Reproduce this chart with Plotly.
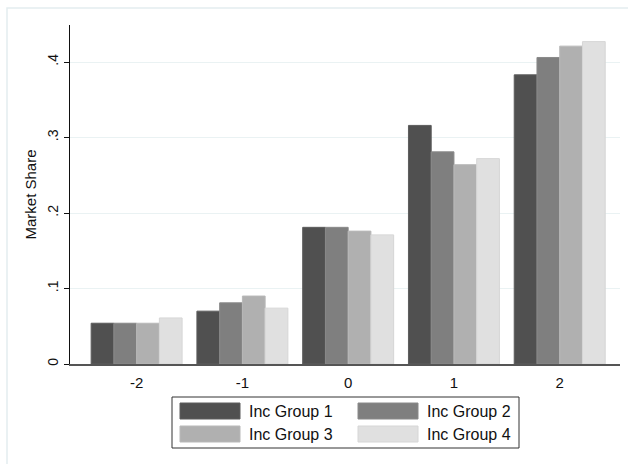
import plotly.graph_objects as go

categories = ["-2", "-1", "0", "1", "2"]
series_names = ["Inc Group 1", "Inc Group 2", "Inc Group 3", "Inc Group 4"]
group1 = [0.054, 0.070, 0.181, 0.316, 0.383]
group2 = [0.054, 0.081, 0.181, 0.281, 0.406]
group3 = [0.054, 0.090, 0.176, 0.264, 0.421]
group4 = [0.061, 0.074, 0.171, 0.272, 0.427]
y_tickvals = [0, 0.1, 0.2, 0.3, 0.4]
y_ticktext = ["0", ".1", ".2", ".3", ".4"]

series_values = [group1, group2, group3, group4]
fill_colors = ["#505050", "#7f7f7f", "#b0b0b0", "#e0e0e0"]
line_colors = ["#5c5c5c", "#8a8a8a", "#b9b9b9", "#d6d6d6"]

W, H = 628, 464
L, R, T, B = 70, 8, 25, 100
PW, PH = W - L - R, H - T - B
FONT = "Liberation Sans, Arial, sans-serif"


def px(xp):
    return (xp - L) / PW


def py(yp):
    return (H - B - yp) / PH


fig = go.Figure()
for name, vals, fc, lc in zip(series_names, series_values, fill_colors, line_colors):
    fig.add_trace(go.Bar(
        x=[int(c) for c in categories], y=vals, name=name,
        marker=dict(color=fc, line=dict(color=lc, width=1)),
        showlegend=False,
    ))

shapes = []
annotations = []
# outer frame (graph region outline)
shapes.append(dict(type="rect", xref="paper", yref="paper",
                   x0=px(7), x1=px(640), y0=py(475), y1=py(8),
                   line=dict(color="#e4edef", width=1.5), fillcolor="rgba(0,0,0,0)", layer="below"))
# legend box
shapes.append(dict(type="rect", xref="paper", yref="paper",
                   x0=px(172), x1=px(519), y0=py(448), y1=py(397),
                   line=dict(color="#333333", width=1), fillcolor="white"))
legend_pos = [(180, 403), (358, 403), (180, 426), (358, 426)]
for (lx, ly), name, fc, lc in zip(legend_pos, series_names, fill_colors, line_colors):
    shapes.append(dict(type="rect", xref="paper", yref="paper",
                       x0=px(lx), x1=px(lx + 60), y0=py(ly + 16), y1=py(ly),
                       line=dict(color=lc, width=1), fillcolor=fc))
    annotations.append(dict(text=name, xref="paper", yref="paper",
                            x=px(lx + 67), y=py(ly + 8), xanchor="left", yanchor="middle",
                            showarrow=False, font=dict(family=FONT, size=16, color="#111111")))

fig.update_layout(
    width=W, height=H,
    margin=dict(l=L, r=R, t=T, b=B),
    paper_bgcolor="white", plot_bgcolor="white",
    barmode="group", bargap=0.14, bargroupgap=0,
    font=dict(family=FONT, size=15, color="#111111"),
    shapes=shapes, annotations=annotations,
    xaxis=dict(
        range=[-2.63, 2.57], tickvals=[int(c) for c in categories], ticktext=categories,
        showline=True, linecolor="#555555", linewidth=1.5, ticks="", showgrid=False,
        zeroline=False, fixedrange=True, ticklabelstandoff=4,
    ),
    yaxis=dict(
        range=[0, 0.449], tickvals=y_tickvals, ticktext=y_ticktext, tickangle=-90,
        showline=True, linecolor="#111111", linewidth=1.2, ticks="outside", ticklen=5,
        tickcolor="#111111", showgrid=True, gridcolor="#eaf2f3", gridwidth=1,
        zeroline=False, title=dict(text="Market Share", standoff=5, font=dict(size=15)),
        tickfont=dict(size=14), fixedrange=True,
    ),
)

fig.write_html("out.html", config={"displayModeBar": False, "staticPlot": True},
               post_script="document.body.style.margin='0px';document.body.style.overflow='hidden';")
